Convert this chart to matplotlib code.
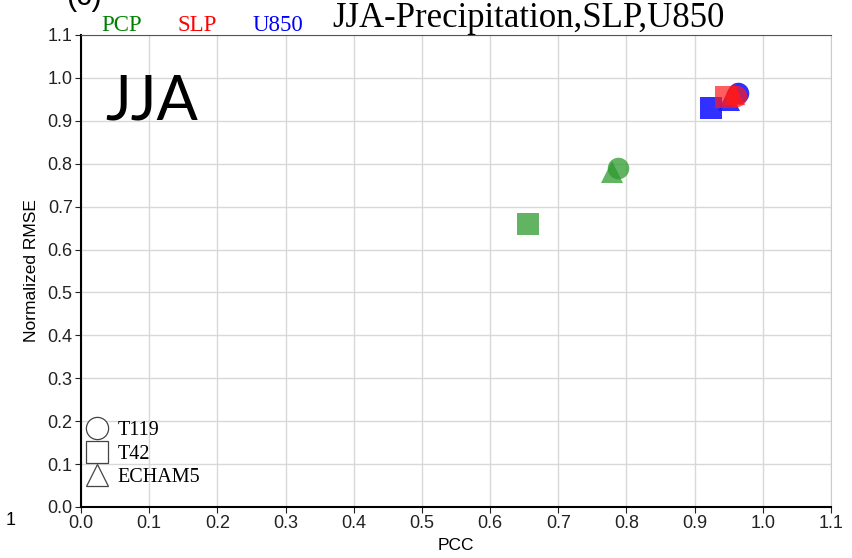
import matplotlib

matplotlib.use("Agg")
import matplotlib.pyplot as plt
from matplotlib.lines import Line2D

# values (PCC, normalized RMSE)
variables = ["PCP", "SLP", "U850"]
colors = {"PCP": "#2e9a2e", "SLP": "#ff1a1a", "U850": "#1a1aff"}
alphas = {"PCP": 0.75, "SLP": 0.7, "U850": 0.9}
models = ["T42", "ECHAM5", "T119"]
markers = {"T119": "o", "T42": "s", "ECHAM5": "^"}

pcc = {
    "PCP": [0.656, 0.779, 0.788],
    "SLP": [0.946, 0.957, 0.960],
    "U850": [0.924, 0.950, 0.964],
}
rmse = {
    "PCP": [0.660, 0.780, 0.790],
    "SLP": [0.955, 0.962, 0.958],
    "U850": [0.930, 0.948, 0.965],
}

ticks = [round(0.1 * i, 1) for i in range(12)]


def main():
    plt.rcParams["font.family"] = ["Liberation Sans", "DejaVu Sans"]
    fig = plt.figure(figsize=(8.52, 5.58), dpi=100)
    ax = fig.add_axes([0.0951, 0.0914, 0.8803, 0.8459])

    for var in ["PCP", "U850", "SLP"]:
        for i, model in enumerate(models):
            ax.plot(pcc[var][i], rmse[var][i], marker=markers[model], markersize=15.5,
                    color=colors[var], alpha=alphas[var], linestyle="none", markeredgewidth=0)

    ax.set_xlim(0, 1.1)
    ax.set_ylim(0, 1.1)
    ax.set_xticks(ticks, [f"{t:.1f}" for t in ticks])
    ax.set_yticks(ticks, [f"{t:.1f}" for t in ticks])
    ax.tick_params(labelsize=13, length=4, colors="#222222", pad=2)
    ax.grid(color="#d8d8d8", linewidth=1)
    ax.set_axisbelow(True)
    ax.spines["right"].set_color("#cccccc")
    ax.spines["top"].set_color("#555555")
    ax.spines["left"].set_linewidth(1.5)
    ax.spines["bottom"].set_linewidth(1.5)
    ax.set_xlabel("PCC", fontsize=12.5, labelpad=4)
    ax.set_ylabel("Normalized RMSE", fontsize=12.5, labelpad=6)

    ax.text(0.032, 0.918, "JJA", transform=ax.transAxes, fontsize=44,
            family="Lato", va="top", ha="left")

    fig.text(0.620, 0.966, "JJA-Precipitation,SLP,U850", fontsize=25,
             family="Liberation Serif", ha="center", va="center")
    for name, xpos in zip(variables, [0.143, 0.231, 0.326]):
        fig.text(xpos, 0.954, name, fontsize=16.5, family="Liberation Serif",
                 color={"PCP": "green", "SLP": "red", "U850": "blue"}[name],
                 ha="center", va="center")
    fig.text(0.078, 1.005, "(c)", fontsize=22, ha="left", va="center")
    fig.text(0.012, 0.068, "1", fontsize=13, ha="center", va="center")
    fig.text(0.103, -0.028, "(d)", fontsize=22, ha="left", va="center")

    handles = [Line2D([], [], marker=markers[m], color="#444444", markerfacecolor="white",
                      markersize=16, linestyle="none", markeredgewidth=0.9)
               for m in ["T119", "T42", "ECHAM5"]]
    ax.legend(handles, ["T119", "T42", "ECHAM5"], loc="lower left",
              bbox_to_anchor=(-0.021, 0.016), frameon=False,
              prop={"family": "Liberation Serif", "size": 14.5},
              handletextpad=0.0, labelspacing=0.22, borderaxespad=0.2)

    fig.savefig("out.png", dpi=100, facecolor="white")


if __name__ == "__main__":
    main()
